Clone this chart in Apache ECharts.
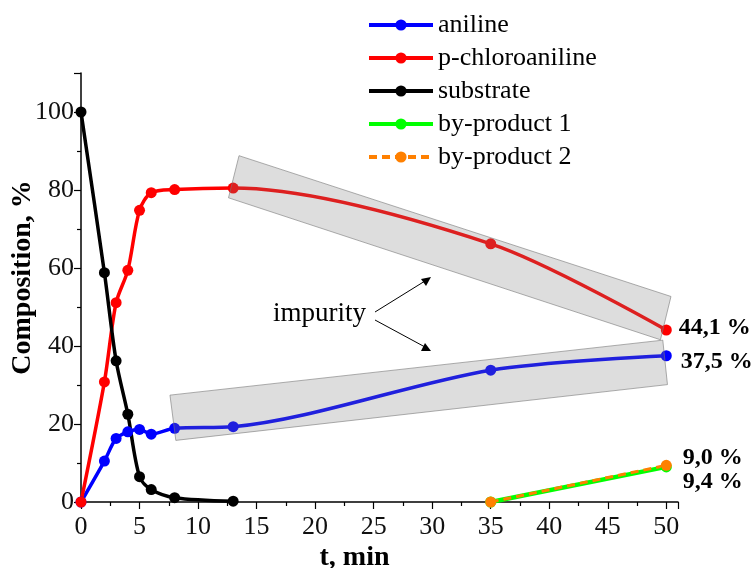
<!DOCTYPE html>
<html>
<head>
<meta charset="utf-8">
<script src="https://cdn.jsdelivr.net/npm/echarts@6/dist/echarts.min.js"></script>
<style>
  html, body { margin: 0; padding: 0; background: #fff; }
  #chart { width: 753px; height: 568px; }
</style>
</head>
<body>
<div id="chart"></div>
<script>
// time points (min) and compositions (%)
const tMain = [0, 2, 3, 4, 5, 6, 8, 13, 35, 50];
const tSubstrate = [0, 2, 3, 4, 5, 6, 8, 13];
const tByProduct = [35, 50];

const aniline = [0, 10.5, 16.3, 18.0, 18.6, 17.4, 18.9, 19.3, 33.8, 37.5];
const chloroaniline = [0, 30.8, 51.1, 59.4, 74.8, 79.3, 80.1, 80.5, 66.2, 44.1];
const substrate = [100, 58.8, 36.2, 22.5, 6.5, 3.2, 1.1, 0.2];
const byProduct1 = [0, 9.0];
const byProduct2 = [0, 9.4];

const seriesNames = ["aniline", "p-chloroaniline", "substrate", "by-product 1", "by-product 2"];
const endLabels = ["37,5 %", "44,1 %", "9,0 %", "9,4 %"];

// shaded "impurity" bands, corners in data units
const impurityBoxes = [
  [[13.5, 88.8], [50.4, 52.7], [49.5, 41.6], [12.6, 78.0]],
  [[7.6, 27.4], [49.7, 41.5], [50.1, 30.1], [8.1, 15.8]]
];

const FONT = "Liberation Serif";

function pairs(xs, ys) {
  return xs.map(function (x, i) { return [x, ys[i]]; });
}

// put a bold value label next to the last point
function withEndLabel(data, text, offset) {
  let last = data[data.length - 1];
  data[data.length - 1] = {
    value: last,
    label: {
      show: true,
      formatter: text,
      position: "right",
      offset: offset,
      fontFamily: FONT,
      fontWeight: "bold",
      fontSize: 24,
      color: "#000"
    }
  };
  return data;
}

let myChart = echarts.init(document.getElementById("chart"));

let option = {
  backgroundColor: "#fff",
  animation: false,
  grid: { left: 81, right: 75, top: 73, bottom: 66, outerBoundsMode: "none", containLabel: false },
  legend: {
    data: seriesNames,
    orient: "vertical",
    left: 363,
    top: 7,
    itemWidth: 64,
    itemHeight: 14,
    itemGap: 7,
    padding: [5, 4, 5, 4],
    backgroundColor: "#fff",
    z: 10,
    lineStyle: { width: 4 },
    textStyle: { fontFamily: FONT, fontSize: 26, lineHeight: 26, color: "#000" }
  },
  xAxis: {
    type: "value",
    min: 0,
    max: 51,
    interval: 5,
    name: "t, min",
    nameLocation: "middle",
    nameGap: 42,
    nameMoveOverlap: false,
    nameTextStyle: { fontFamily: FONT, fontWeight: "bold", fontSize: 28, color: "#000", padding: [0, 50, 0, 0] },
    axisLine: { lineStyle: { color: "#000", width: 1.5 } },
    axisTick: { length: 7, lineStyle: { color: "#000", width: 1.2 } },
    minorTick: { show: true, splitNumber: 2, length: 4, lineStyle: { color: "#000", width: 1.2 } },
    splitLine: { show: false },
    axisLabel: {
      fontFamily: FONT, fontSize: 26, color: "#111", margin: 12,
      formatter: function (v) { return v % 5 === 0 ? String(v) : ""; }
    }
  },
  yAxis: {
    type: "value",
    min: 0,
    max: 110,
    interval: 20,
    name: "Composition, %",
    nameLocation: "middle",
    nameGap: 44,
    nameMoveOverlap: false,
    nameTextStyle: { fontFamily: FONT, fontWeight: "bold", fontSize: 28, color: "#000", padding: [0, 0, 0, 20] },
    axisLine: { show: true, lineStyle: { color: "#000", width: 1.5 } },
    axisTick: { show: true, length: 7, lineStyle: { color: "#000", width: 1.2 } },
    minorTick: { show: true, splitNumber: 2, length: 4, lineStyle: { color: "#000", width: 1.2 } },
    splitLine: { show: false },
    axisLabel: {
      fontFamily: FONT, fontSize: 26, color: "#111", margin: 7,
      formatter: function (v) { return v % 20 === 0 ? String(v) : ""; }
    }
  },
  series: [
    {
      name: "aniline",
      type: "line",
      smooth: 0.3,
      symbol: "circle",
      symbolSize: 11,
      color: "#0000ff",
      lineStyle: { width: 3.5 },
      data: withEndLabel(pairs(tMain, aniline), endLabels[0], [4, 6])
    },
    {
      name: "p-chloroaniline",
      type: "line",
      smooth: 0.3,
      symbol: "circle",
      symbolSize: 11,
      color: "#ff0000",
      lineStyle: { width: 3.5 },
      data: withEndLabel(pairs(tMain, chloroaniline), endLabels[1], [2, -2])
    },
    {
      name: "substrate",
      type: "line",
      smooth: 0.3,
      symbol: "circle",
      symbolSize: 11,
      color: "#000000",
      lineStyle: { width: 3.5 },
      data: pairs(tSubstrate, substrate)
    },
    {
      name: "by-product 1",
      type: "line",
      symbol: "circle",
      symbolSize: 11,
      color: "#00ff00",
      lineStyle: { width: 4.5 },
      data: withEndLabel(pairs(tByProduct, byProduct1), endLabels[2], [6, -9])
    },
    {
      name: "by-product 2",
      type: "line",
      symbol: "circle",
      symbolSize: 11,
      color: "#ff8000",
      lineStyle: { width: 3, type: [8, 5] },
      data: withEndLabel(pairs(tByProduct, byProduct2), endLabels[3], [6, 16])
    },
    {
      name: "impurity",
      type: "custom",
      silent: true,
      z: 5,
      data: impurityBoxes.map(function (b) { return b[0]; }),
      renderItem: function (params, api) {
        let box = impurityBoxes[params.dataIndex];
        return {
          type: "polygon",
          shape: { points: box.map(function (p) { return api.coord(p); }) },
          style: { fill: "rgba(122,122,122,0.26)", stroke: "rgba(120,120,120,0.6)", lineWidth: 1 }
        };
      }
    }
  ],
  graphic: [
    {
      type: "text",
      left: 273,
      top: 300,
      style: { text: "impurity", fontFamily: FONT, fontSize: 27, fill: "#000" }
    },
    {
      type: "line",
      shape: { x1: 375, y1: 312, x2: 425, y2: 281 },
      style: { stroke: "#000", lineWidth: 1 }
    },
    {
      type: "polygon",
      shape: { points: [[431, 277], [421, 279], [426, 286]] },
      style: { fill: "#000" }
    },
    {
      type: "line",
      shape: { x1: 375, y1: 320, x2: 425, y2: 347 },
      style: { stroke: "#000", lineWidth: 1 }
    },
    {
      type: "polygon",
      shape: { points: [[431, 351], [421, 351], [425, 343]] },
      style: { fill: "#000" }
    }
  ]
};

myChart.setOption(option);
</script>
</body>
</html>
